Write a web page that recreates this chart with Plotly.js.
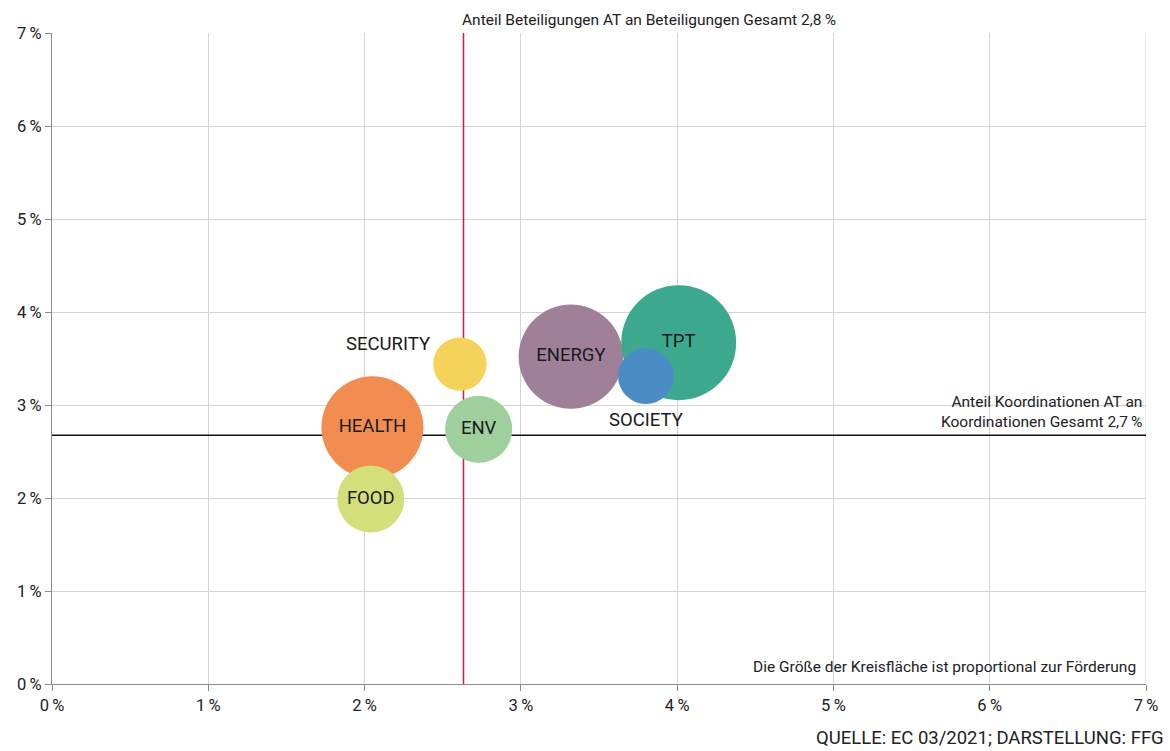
<!DOCTYPE html>
<html>
<head>
<meta charset="utf-8">
<script src="https://cdn.plot.ly/plotly-3.0.1.min.js"></script>
<style>
  body { margin: 0; background: #fff; }
  #chart { width: 1170px; height: 751px; }
</style>
</head>
<body>
<div id="chart"></div>
<script>
// Themen (draw order: later ones on top)
let themen = ["HEALTH", "FOOD", "SECURITY", "ENV", "ENERGY", "TPT", "SOCIETY"];
// Anteil Beteiligungen AT (%)
let beteiligungen = [2.05, 2.04, 2.61, 2.73, 3.32, 4.01, 3.80];
// Anteil Koordinationen AT (%)
let koordinationen = [2.76, 1.99, 3.44, 2.74, 3.52, 3.67, 3.31];
// Förderung (relative, Kreisfläche proportional)
let foerderung = [104, 45, 28.5, 45, 109, 132, 31];
let farben = ["#f18d50", "#d3df7a", "#f5d35a", "#9ecf9c", "#a08099", "#3ca88e", "#4a8cc4"];
let labelPos = ["middle center", "middle center", "middle center", "middle center",
                "middle center", "middle center", "bottom center"];

let gesamtBeteiligungen = 2.633;
let gesamtKoordinationen = 2.674;

let font = "Roboto, 'Liberation Sans', sans-serif";

// SECURITY label sits beside its bubble, the rest come from the trace
let idxSec = themen.indexOf("SECURITY");
let traceText = themen.map((t, i) => (i === idxSec ? "" : t));

let bubbleData = [
  {
    x: beteiligungen,
    y: koordinationen,
    text: traceText,
    mode: "markers+text",
    type: "scatter",
    textposition: labelPos,
    textfont: { family: font, size: 18.5, color: "#1a1a1a" },
    marker: {
      size: foerderung,
      sizemode: "area",
      sizeref: 0.02,
      color: farben,
      opacity: 1,
      line: { width: 0 },
    },
    hoverinfo: "text",
    cliponaxis: false,
  },
];

let layout = {
  width: 1170,
  height: 751,
  margin: { l: 52, r: 24, t: 33, b: 67 },
  paper_bgcolor: "#fff",
  plot_bgcolor: "#fff",
  showlegend: false,
  font: { family: font, size: 16, color: "#222" },
  xaxis: {
    range: [0, 7],
    dtick: 1,
    ticksuffix: "\u2009%",
    showgrid: true,
    gridcolor: "#d4d4d4",
    gridwidth: 1,
    zeroline: false,
    showline: true,
    linecolor: "#8c8c8c",
    linewidth: 1,
    ticks: "outside",
    ticklen: 6,
    tickcolor: "#8c8c8c",
    tickfont: { family: font, size: 16.5, color: "#222" },
    fixedrange: true,
  },
  yaxis: {
    range: [0, 7],
    dtick: 1,
    ticksuffix: "\u2009%",
    showgrid: true,
    gridcolor: "#d4d4d4",
    gridwidth: 1,
    zeroline: false,
    showline: true,
    linecolor: "#8c8c8c",
    linewidth: 1,
    ticks: "outside",
    ticklen: 6,
    tickcolor: "#8c8c8c",
    tickfont: { family: font, size: 16.5, color: "#222" },
    fixedrange: true,
  },
  shapes: [
    // right grid edge
    {
      type: "line", xref: "x", yref: "y", x0: 7, x1: 7, y0: 0, y1: 7,
      line: { color: "#d4d4d4", width: 1 }, layer: "below",
    },
    {
      type: "line", xref: "x", yref: "y",
      x0: gesamtBeteiligungen, x1: gesamtBeteiligungen, y0: 0, y1: 7,
      line: { color: "#e4183c", width: 1.5 }, layer: "between",
    },
    {
      type: "line", xref: "x", yref: "y",
      x0: 0, x1: 7, y0: gesamtKoordinationen, y1: gesamtKoordinationen,
      line: { color: "#111", width: 1.5 }, layer: "between",
    },
  ],
  annotations: [
    {
      text: themen[idxSec],
      xref: "x", yref: "y", x: beteiligungen[idxSec], y: koordinationen[idxSec],
      xanchor: "right", yanchor: "middle", xshift: -28, yshift: 20,
      showarrow: false, font: { family: font, size: 18.5, color: "#1a1a1a" },
    },
    {
      text: "Anteil Beteiligungen AT an Beteiligungen Gesamt 2,8\u2009%",
      xref: "x", yref: "paper", x: gesamtBeteiligungen, y: 1,
      xanchor: "left", yanchor: "bottom", yshift: 2, xshift: -4,
      showarrow: false, font: { family: font, size: 15.5, color: "#222" },
    },
    {
      text: "Anteil Koordinationen AT an<br>Koordinationen Gesamt 2,7\u2009%",
      xref: "paper", yref: "y", x: 1, y: gesamtKoordinationen,
      xanchor: "right", yanchor: "bottom", align: "right",
      xshift: -2, yshift: 2,
      showarrow: false, font: { family: font, size: 15.5, color: "#222" },
    },
    {
      text: "Die Größe der Kreisfläche ist proportional zur Förderung",
      xref: "paper", yref: "paper", x: 1, y: 0,
      xanchor: "right", yanchor: "bottom", xshift: -8, yshift: 6,
      showarrow: false, font: { family: font, size: 15.5, color: "#222" },
    },
    {
      text: "QUELLE: EC 03/2021; DARSTELLUNG: FFG",
      xref: "paper", yref: "paper", x: 1, y: 0,
      xanchor: "right", yanchor: "top", xshift: 20, yshift: -41,
      showarrow: false, font: { family: font, size: 18.5, color: "#222" },
    },
  ],
};

Plotly.newPlot("chart", bubbleData, layout, { displayModeBar: false, staticPlot: true });
</script>
</body>
</html>
